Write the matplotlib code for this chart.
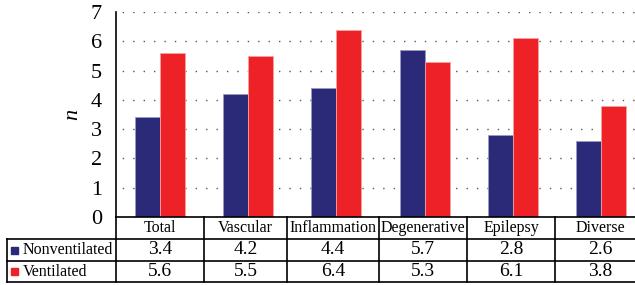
import numpy as np
import matplotlib.pyplot as plt
from matplotlib.lines import Line2D
from matplotlib.patches import Rectangle

categories = ['Total', 'Vascular', 'Inflammation', 'Degenerative', 'Epilepsy', 'Diverse']
nonventilated = [3.4, 4.2, 4.4, 5.7, 2.8, 2.6]
ventilated = [5.6, 5.5, 6.4, 5.3, 6.1, 3.8]
series_names = ['Nonventilated', 'Ventilated']
colors = ['#2a2a78', '#ee2226']
edges = ['#9a9ac0', '#f7a0a0']

plt.rcParams['font.family'] = ['Liberation Serif', 'DejaVu Serif']

W, H = 635, 285
fig = plt.figure(figsize=(W / 100, H / 100), dpi=100)

# pixel layout of the plot area (right edge runs past the picture, as in the original crop)
left, right, top, bottom = 116, 645, 12, 217
ax = fig.add_axes([left / W, 1 - bottom / H, (right - left) / W, (bottom - top) / H])

x = np.arange(len(categories))
bw = 0.283
ax.bar(x - bw / 2, nonventilated, bw, color=colors[0], edgecolor=edges[0], linewidth=0.6, zorder=3)
ax.bar(x + bw / 2, ventilated, bw, color=colors[1], edgecolor=edges[1], linewidth=0.6, zorder=3)

ax.set_xlim(-0.5, len(categories) - 0.5)
ax.set_ylim(0, 7)
ax.set_yticks(range(8))
ax.set_xticks([])
ax.tick_params(axis='y', length=0, labelsize=16, pad=10)
ax.yaxis.grid(True, linestyle=(3, (1, 6.5)), color='#555555', linewidth=1.0)
for s in ['top', 'right', 'bottom']:
    ax.spines[s].set_visible(False)
ax.spines['left'].set_linewidth(1.2)
ax.set_ylabel('n', fontsize=16, style='italic', labelpad=6)

# table below the axes
def fy(py):
    return 1 - py / H

def fx(px):
    return px / W

rows_y = [217, 239, 261, 282]
cols_x = [116, 204, 287, 379, 467, 555, 645]
lw = 1.2
kw = dict(color='black', linewidth=lw, transform=fig.transFigure)

# horizontal lines
fig.add_artist(Line2D([fx(left), fx(W)], [fy(rows_y[0])] * 2, **kw))
for py in rows_y[1:]:
    fig.add_artist(Line2D([fx(7), fx(W)], [fy(py)] * 2, **kw))
# vertical lines
fig.add_artist(Line2D([fx(7), fx(7)], [fy(rows_y[1]), fy(rows_y[3])], **kw))
for px in cols_x[:-1]:
    fig.add_artist(Line2D([fx(px), fx(px)], [fy(rows_y[0]), fy(rows_y[3])], **kw))

fs = 11.5
fs_num = 14
for i, cat in enumerate(categories):
    cx = (cols_x[i] + cols_x[i + 1]) / 2
    fig.text(fx(cx), fy((rows_y[0] + rows_y[1]) / 2), cat, ha='center', va='center', fontsize=fs)
    fig.text(fx(cx), fy((rows_y[1] + rows_y[2]) / 2), f'{nonventilated[i]:.1f}', ha='center', va='center', fontsize=fs_num)
    fig.text(fx(cx), fy((rows_y[2] + rows_y[3]) / 2), f'{ventilated[i]:.1f}', ha='center', va='center', fontsize=fs_num)

for j, name in enumerate(series_names):
    yc = (rows_y[j + 1] + rows_y[j + 2]) / 2
    fig.add_artist(Rectangle((fx(11), fy(yc + 3.5)), 7 / W, 7 / H, color=colors[j], transform=fig.transFigure))
    fig.text(fx(23), fy(yc), name, ha='left', va='center', fontsize=fs)

fig.savefig('out.png', dpi=100)
